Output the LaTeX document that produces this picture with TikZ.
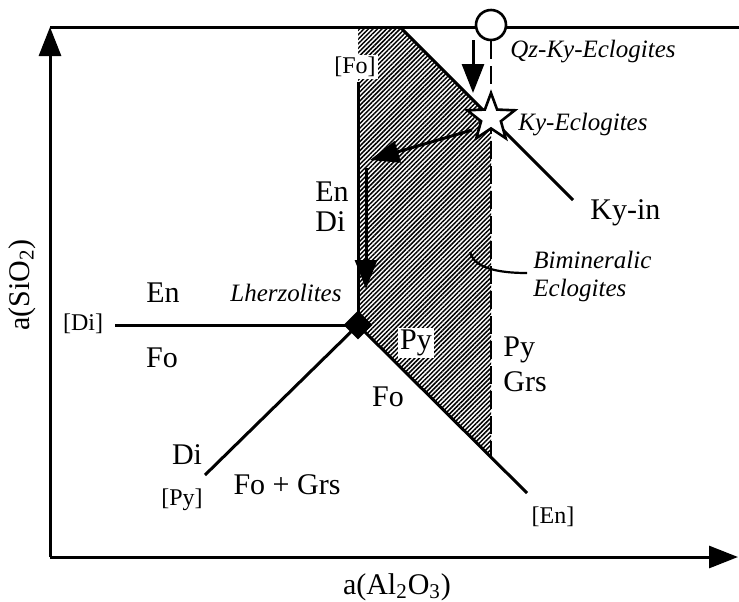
\documentclass[tikz,border=0pt]{standalone}
\usepackage{fontspec}
\setmainfont{Liberation Serif}
\usetikzlibrary{arrows.meta,shapes.geometric,patterns.meta}

\begin{document}
\begin{tikzpicture}[x=0.5pt,y=-0.5pt,>={Triangle[length=14.5pt,width=11pt]},line join=miter,
  phase/.style={line width=1.5pt},
  lbl/.style={font=\fontsize{15}{15}\selectfont,inner sep=1pt},
  rxn/.style={font=\fontsize{12}{12}\selectfont,inner sep=1pt},
  rock/.style={font=\fontsize{12.5}{15}\selectfont\itshape,inner sep=1pt}]
\useasboundingbox (0,0) rectangle (739,601);
\coordinate (O) at (50,557);
\coordinate (ytip) at (50,27);
\coordinate (xtip) at (738,557);
\coordinate (redge) at (739,27);
\coordinate (kytop) at (400,27);
\coordinate (kyend) at (573,200);
\coordinate (fotop) at (358,27);
\coordinate (fostart) at (358,82);
\coordinate (inv) at (358,325);
\coordinate (diend) at (115,325);
\coordinate (pyend) at (205,475);
\coordinate (enend) at (527,493);
\coordinate (kyecl) at (491,118);
\coordinate (hbot) at (491,457);
\coordinate (qz) at (491,25);
\coordinate (a1s) at (473,40);
\coordinate (a1e) at (473,93);
\coordinate (a2s) at (472,130);
\coordinate (a2e) at (370,160);
\coordinate (a3s) at (366,168);
\coordinate (a3e) at (366,289);
\coordinate (bimtip) at (470,252);
\coordinate (bimend) at (527,273);
% shaded field
\fill[pattern={Lines[angle=45,distance=1.6pt,line width=0.75pt]}] (fotop) -- (kytop) -- (kyecl) -- (hbot) -- (inv) -- cycle;
% axes
\draw[->,phase] (O) -- (ytip);
\draw[->,phase] (O) -- (xtip);
\draw[phase] (ytip) -- (redge);
% reactions
\draw[phase] (fostart) -- (inv);
\draw[phase] (diend) -- (inv);
\draw[phase] (inv) -- (pyend);
\draw[phase] (inv) -- (enend);
\draw[phase] (kytop) -- (kyend);
\node[circle,draw,fill=white,line width=1.3pt,minimum size=15pt,inner sep=0pt] (qzc) at (qz) {};
\draw[line width=1.3pt,dash pattern=on 9pt off 3.5pt] (qzc.south) -- (hbot);
\draw[->,phase] (a1s) -- (a1e);
\draw[->,phase] (a2s) -- (a2e);
\draw[->,phase] (a3s) -- (a3e);
\draw[line width=1.1pt] (bimtip) .. controls (473,264) and (488,273) .. (bimend);
\node[star,star points=5,star point ratio=2.4,draw,fill=white,line width=1.3pt,minimum size=25pt,inner sep=0pt] (kys) at (kyecl) {};
\node[diamond,fill=black,minimum size=14.5pt,inner sep=0pt] (lhz) at (inv) {};
% labels
\node[rxn,fill=white] (fo) at (355,67) {[Fo]};
\node[lbl,anchor=west] (en1) at (313,192) {En};
\node[lbl,anchor=west] (di1) at (313,222) {Di};
\node[lbl] (en2) at (163,293) {En};
\node[rock] (lherz) at (286,293) {Lherzolites};
\node[rxn] (dib) at (83,324) {[Di]};
\node[lbl] (fo2) at (162,358) {Fo};
\node[lbl] (di2) at (187,455) {Di};
\node[rxn] (pyb) at (182,500) {[Py]};
\node[lbl] (fogrs) at (287,485) {Fo + Grs};
\node[lbl,fill=white] (py1) at (416,343) {Py};
\node[lbl,anchor=west] (py2) at (501,350) {Py};
\node[lbl,anchor=west] (grs) at (501,382) {Grs};
\node[lbl] (fo3) at (388,397) {Fo};
\node[rxn] (enb) at (553,517) {[En]};
\node[rock,anchor=west] (qzky) at (508,52) {Qz-Ky-Eclogites};
\node[rock,anchor=west] (kyl) at (516,125) {Ky-Eclogites};
\node[lbl,anchor=west] (kyin) at (588,213) {Ky-in};
\node[rock,anchor=west] (bim) at (531,260) {Bimineralic};
\node[rock,anchor=west] (ecl) at (531,290) {Eclogites};
\node[lbl,rotate=90] (ylab) at (22,285) {a(SiO\textsubscript{2})};
\node[lbl] (xlab) at (397,587) {a(Al\textsubscript{2}O\textsubscript{3})};
\end{tikzpicture}
\end{document}
